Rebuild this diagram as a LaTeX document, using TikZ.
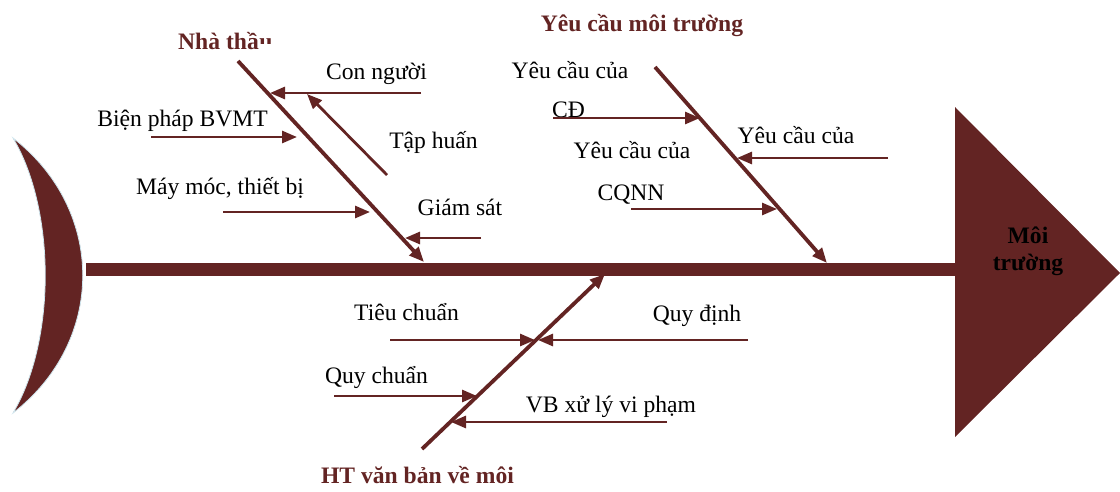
\documentclass[tikz,border=0pt]{standalone}
\usepackage{fontspec}
\setmainfont{Liberation Serif}
\usetikzlibrary{arrows.meta}
\definecolor{maroon}{HTML}{632423}
\definecolor{rimblue}{HTML}{CFE6EE}
\begin{document}
\begin{tikzpicture}[x=1pt,y=-1pt,
  lbl/.style={font=\fontsize{23.6}{26}\selectfont, inner sep=0pt, text=black, anchor=base},
  ttl/.style={font=\fontsize{23.6}{26}\selectfont\bfseries, inner sep=0pt, text=maroon, anchor=base},
  head/.style={font=\fontsize{23.6}{26}\selectfont\bfseries, inner sep=0pt, text=black, anchor=base},
  bone/.style={draw=maroon, line width=3.8pt, -{Triangle[length=15pt,width=12pt]}},
  twig/.style={draw=maroon, line width=2.8pt, -{Triangle[length=15pt,width=12pt]}},
]
\useasboundingbox (0,0) rectangle (1120,491);

% head of the fish: crescent, spine and the effect triangle
\filldraw[fill=maroon, draw=rimblue, line width=0.8pt]
  (13,138) .. controls (106,210) and (106,341) .. (13,413)
           .. controls (56,341) and (56,210) .. (13,138) -- cycle;
\fill[maroon] (86,263) rectangle (955,276);
\fill[maroon] (955,107) -- (1120,273) -- (955,437) -- cycle;
\node[head] (moi) at (1028,243) {Môi};
\node[head] (truong) at (1028,270) {trường};

% main bones
\coordinate (b1s) at (238,61);  \coordinate (b1e) at (424,262);
\coordinate (b2s) at (655,67);  \coordinate (b2e) at (827,263);
\coordinate (b3s) at (422,449); \coordinate (b3e) at (605,274);
\draw[bone] (b1s) -- (b1e);
\draw[bone] (b2s) -- (b2e);
\draw[bone] (b3s) -- (b3e);

% bone titles
\node[ttl, anchor=base west] (nha) at (178,49) {Nhà thầ};
\begin{scope}
  \clip (nha.base east) ++(-2,-30) rectangle ++(30,24);
  \node[ttl, anchor=base west] (nhau) at (nha.base east) {u};
\end{scope}
\node[ttl] (ycmt) at (642,31) {Yêu cầu môi trường};
\node[ttl] (htvb) at (417.5,483) {HT văn bản về môi};

% causes on the contractor bone
\node[lbl] (conNguoi) at (376.5,79) {Con người};
\node[lbl] (bienPhap) at (182.5,126) {Biện pháp BVMT};
\node[lbl] (tapHuan) at (433.5,148) {Tập huấn};
\node[lbl] (mayMoc) at (220,194) {Máy móc, thiết bị};
\node[lbl] (giamSat) at (460,215) {Giám sát};

\coordinate (cnA) at (421,93);  \coordinate (cnB) at (270,93);
\coordinate (thA) at (387,175); \coordinate (thB) at (307,94);
\coordinate (bpA) at (151,137); \coordinate (bpB) at (297,137);
\coordinate (mmA) at (223,212); \coordinate (mmB) at (370,212);
\coordinate (gsA) at (481,238); \coordinate (gsB) at (405,238);
\draw[twig] (cnA) -- (cnB);
\draw[twig] (thA) -- (thB);
\draw[twig] (bpA) -- (bpB);
\draw[twig] (mmA) -- (mmB);
\draw[twig] (gsA) -- (gsB);

% causes on the requirements bone
\node[lbl] (ycCD) at (570,78) {Yêu cầu của};
\node[lbl] (cd) at (568.5,117) {CĐ};
\node[lbl] (ycCQ) at (632,158) {Yêu cầu của};
\node[lbl] (cqnn) at (631,200) {CQNN};
\node[lbl] (ycR) at (796,143) {Yêu cầu của};

\coordinate (cdA) at (553,118); \coordinate (cdB) at (700,118);
\coordinate (yrA) at (888,158); \coordinate (yrB) at (737,158);
\coordinate (cqA) at (631,209); \coordinate (cqB) at (777,209);
\draw[twig] (cdA) -- (cdB);
\draw[twig] (yrA) -- (yrB);
\draw[twig] (cqA) -- (cqB);

% causes on the legal documents bone
\node[lbl] (tieuChuan) at (406.5,320) {Tiêu chuẩn};
\node[lbl] (quyDinh) at (697,321) {Quy định};
\node[lbl] (quyChuan) at (376.5,383) {Quy chuẩn};
\node[lbl] (vbxl) at (611,412) {VB xử lý vi phạm};

\coordinate (tcA) at (390,340); \coordinate (tcB) at (535,340);
\coordinate (qdA) at (748,340); \coordinate (qdB) at (538,340);
\coordinate (qcA) at (334,396); \coordinate (qcB) at (477,396);
\coordinate (vbA) at (667,422); \coordinate (vbB) at (451,422);
\draw[twig] (tcA) -- (tcB);
\draw[twig] (qdA) -- (qdB);
\draw[twig] (qcA) -- (qcB);
\draw[twig] (vbA) -- (vbB);
\end{tikzpicture}
\end{document}
